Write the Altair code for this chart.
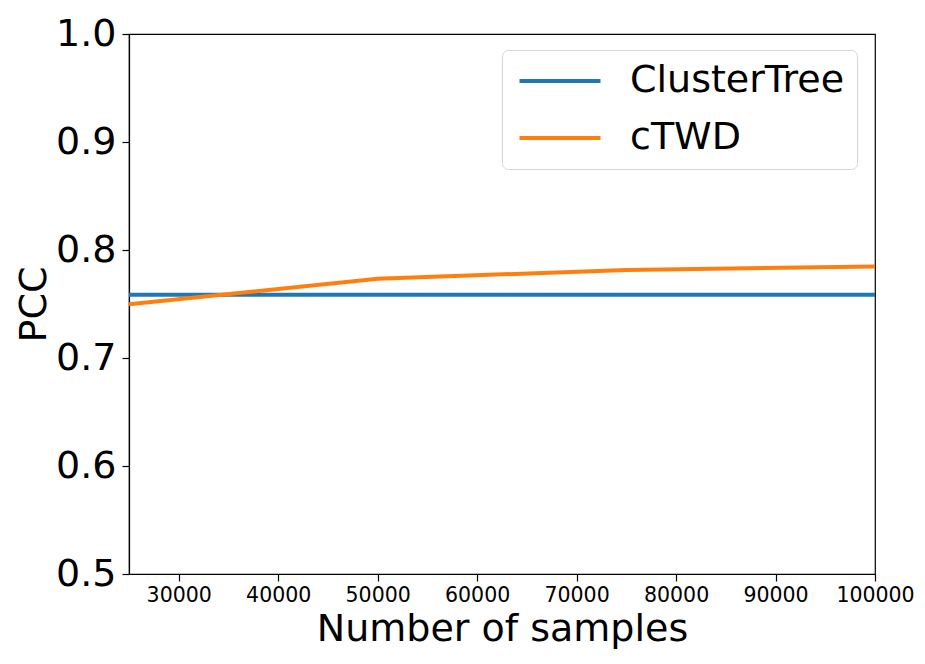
import altair as alt
import pandas as pd

samples = [25000, 50000, 75000, 100000]
cluster_tree = [0.7586, 0.7586, 0.7586, 0.7586]
ctwd = [0.7497, 0.7733, 0.7815, 0.7847]
series = ["ClusterTree", "cTWD"]
colors = ["#1f77b4", "#ff7f0e"]
x_ticks = [30000, 40000, 50000, 60000, 70000, 80000, 90000, 100000]
y_ticks = [0.5, 0.6, 0.7, 0.8, 0.9, 1.0]

rows = []
for s, v in zip(samples, cluster_tree):
    rows.append({"samples": s, "PCC": v, "method": "ClusterTree", "order": 0})
for s, v in zip(samples, ctwd):
    rows.append({"samples": s, "PCC": v, "method": "cTWD", "order": 1})
df = pd.DataFrame(rows)

FONT = "DejaVu Sans"
BIG = 38

chart = alt.Chart(df).mark_line(strokeWidth=4, clip=True).encode(
    x=alt.X(
        "samples:Q",
        title="Number of samples",
        scale=alt.Scale(domain=[25000, 100000], nice=False, zero=False),
        axis=alt.Axis(values=x_ticks, format="d", labelFontSize=20.5,
                      tickSize=7, labelPadding=4, titleFontSize=BIG,
                      titlePadding=5, grid=False, labelFlush=False),
    ),
    y=alt.Y(
        "PCC:Q",
        title="PCC",
        scale=alt.Scale(domain=[0.5, 1.0], nice=False, zero=False),
        axis=alt.Axis(values=y_ticks, format=".1f", labelFontSize=BIG,
                      tickSize=7, labelPadding=6, titleFontSize=BIG,
                      titlePadding=2, grid=False),
    ),
    color=alt.Color(
        "method:N",
        scale=alt.Scale(domain=series, range=colors),
        legend=alt.Legend(
            title=None, orient="none", legendX=373, legendY=16,
            labelFontSize=BIG, labelFont=FONT,
            symbolType="M-1,0H5", symbolSize=729, symbolStrokeWidth=4,
            labelOffset=78, rowPadding=19, padding=12,
            strokeColor="#d6d6d6", fillColor="white", cornerRadius=6,
            labelLimit=400,
        ),
    ),
    order="order:Q",
    detail="method:N",
).properties(
    width=746, height=540,
    autosize=alt.AutoSizeParams(type="none"),
    padding={"left": 121, "top": 26, "right": 42, "bottom": 82},
).configure_axis(
    labelFont=FONT, titleFont=FONT, titleFontWeight="normal",
    domainColor="black", tickColor="black", labelColor="black",
    titleColor="black", domainWidth=1.2, tickWidth=1.2,
).configure_view(
    stroke="black", strokeWidth=1.2,
)

chart.save("out.html", embed_options={"renderer": "svg", "actions": False})
